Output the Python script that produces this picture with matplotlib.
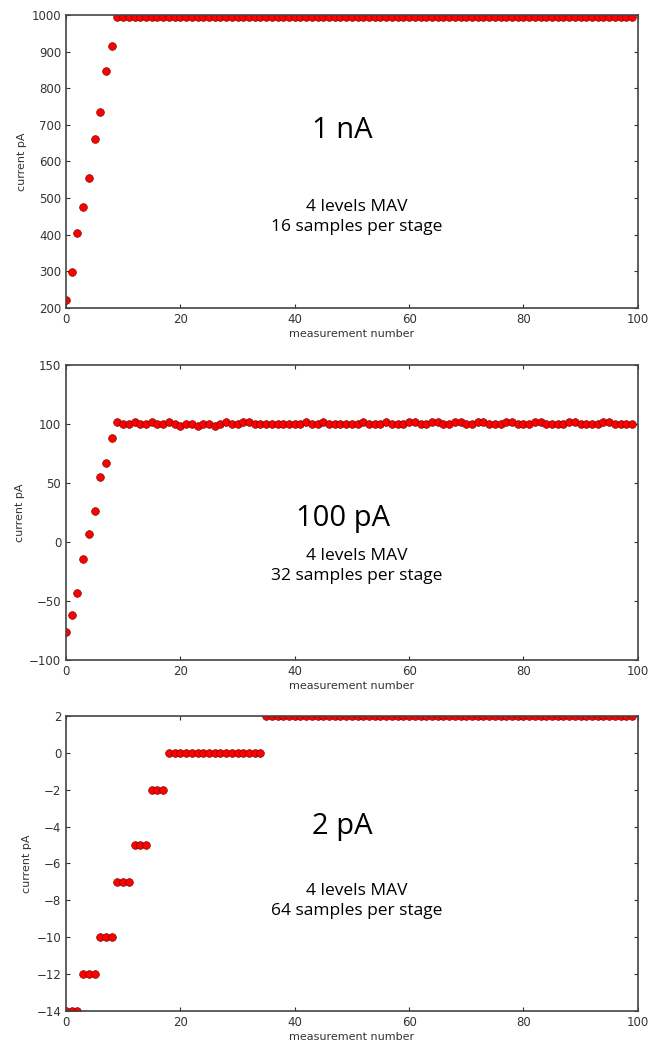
import matplotlib
matplotlib.use('Agg')
import matplotlib.pyplot as plt

# 1 nA run, 16 samples per stage
current_1nA = [222, 298, 406, 476, 554, 660, 736, 848, 915,
               994, 994, 995, 994, 994, 995, 994, 994, 995, 994,
               994, 993, 994, 994, 995, 994, 994, 995, 994, 994,
               995, 994, 994, 995, 994, 994, 994, 995, 994, 994,
               995, 994, 994, 995, 994, 994, 994, 995, 994, 994,
               995, 994, 994, 995, 994, 994, 995, 994, 994, 994,
               995, 994, 994, 995, 994, 994, 995, 994, 994, 995,
               994, 994, 994, 995, 994, 994, 995, 994, 994, 995,
               994, 994, 995, 994, 994, 994, 995, 994, 994, 995,
               994, 994, 995, 994, 994, 995, 994, 994, 994, 994,
               994]

# 100 pA run, 32 samples per stage
current_100pA = [-76, -62, -43, -14, 7, 26, 55, 67, 88,
                 102, 100, 100, 102, 100, 100, 102, 100, 100, 102,
                 100, 98, 100, 100, 98, 100, 100, 98, 100, 102,
                 100, 100, 102, 102, 100, 100, 100, 100, 100, 100,
                 100, 100, 100, 102, 100, 100, 102, 100, 100, 100,
                 100, 100, 100, 102, 100, 100, 100, 102, 100, 100,
                 100, 102, 102, 100, 100, 102, 102, 100, 100, 102,
                 102, 100, 100, 102, 102, 100, 100, 100, 102, 102,
                 100, 100, 100, 102, 102, 100, 100, 100, 100, 102,
                 102, 100, 100, 100, 100, 102, 102, 100, 100, 100,
                 100]

# 2 pA run, 64 samples per stage
current_2pA = ([-14] * 3 + [-12] * 3 + [-10] * 3 + [-7] * 3 + [-5] * 3
               + [-2] * 3 + [0] * 17 + [2] * 65)

panels = [
    (current_1nA, (200, 1000), range(200, 1001, 100), "1 nA", "16 samples per stage",
     [0.705, 0.2807], (0.484, 0.607), (0.509, 0.31)),
    (current_100pA, (-100, 150), range(-100, 151, 50), "100 pA", "32 samples per stage",
     [0.3678, 0.2826], (0.484, 0.48), (0.509, 0.318)),
    (current_2pA, (-14, 2), range(-14, 3, 2), "2 pA", "64 samples per stage",
     [0.0316, 0.2826], (0.484, 0.627), (0.509, 0.372)),
]

fig = plt.figure(figsize=(6.58, 10.44), dpi=100)
edge = '#444444'

for data, ylim, yticks, title, samples, box, tpos, spos in panels:
    ax = fig.add_axes([0.1003, box[0], 0.869, box[1]])
    x = list(range(len(data)))
    ax.plot(x, data, 'o', color='red', markeredgecolor='#5a0000',
            markeredgewidth=0.4, markersize=5.6)
    ax.set_xlim(0, 100)
    ax.set_ylim(*ylim)
    ax.set_yticks(list(yticks))
    ax.set_xticks(range(0, 101, 20))
    ax.tick_params(direction='in', top=True, right=True, length=3,
                   labelsize=8.5, colors='#333333')
    for s in ax.spines.values():
        s.set_color(edge)
        s.set_linewidth(1.2)
    ax.set_xlabel("measurement number", fontsize=8, color='#333333', labelpad=2)
    ax.set_ylabel("current pA", fontsize=8, color='#333333', labelpad=3)
    ax.text(tpos[0], tpos[1], title, transform=ax.transAxes, ha='center',
            va='center', fontsize=21, family='Open Sans')
    ax.text(spos[0], spos[1], "4 levels MAV\n" + samples, transform=ax.transAxes,
            ha='center', va='center', fontsize=12.5, family='Open Sans',
            linespacing=1.35)

fig.savefig("out.png")
